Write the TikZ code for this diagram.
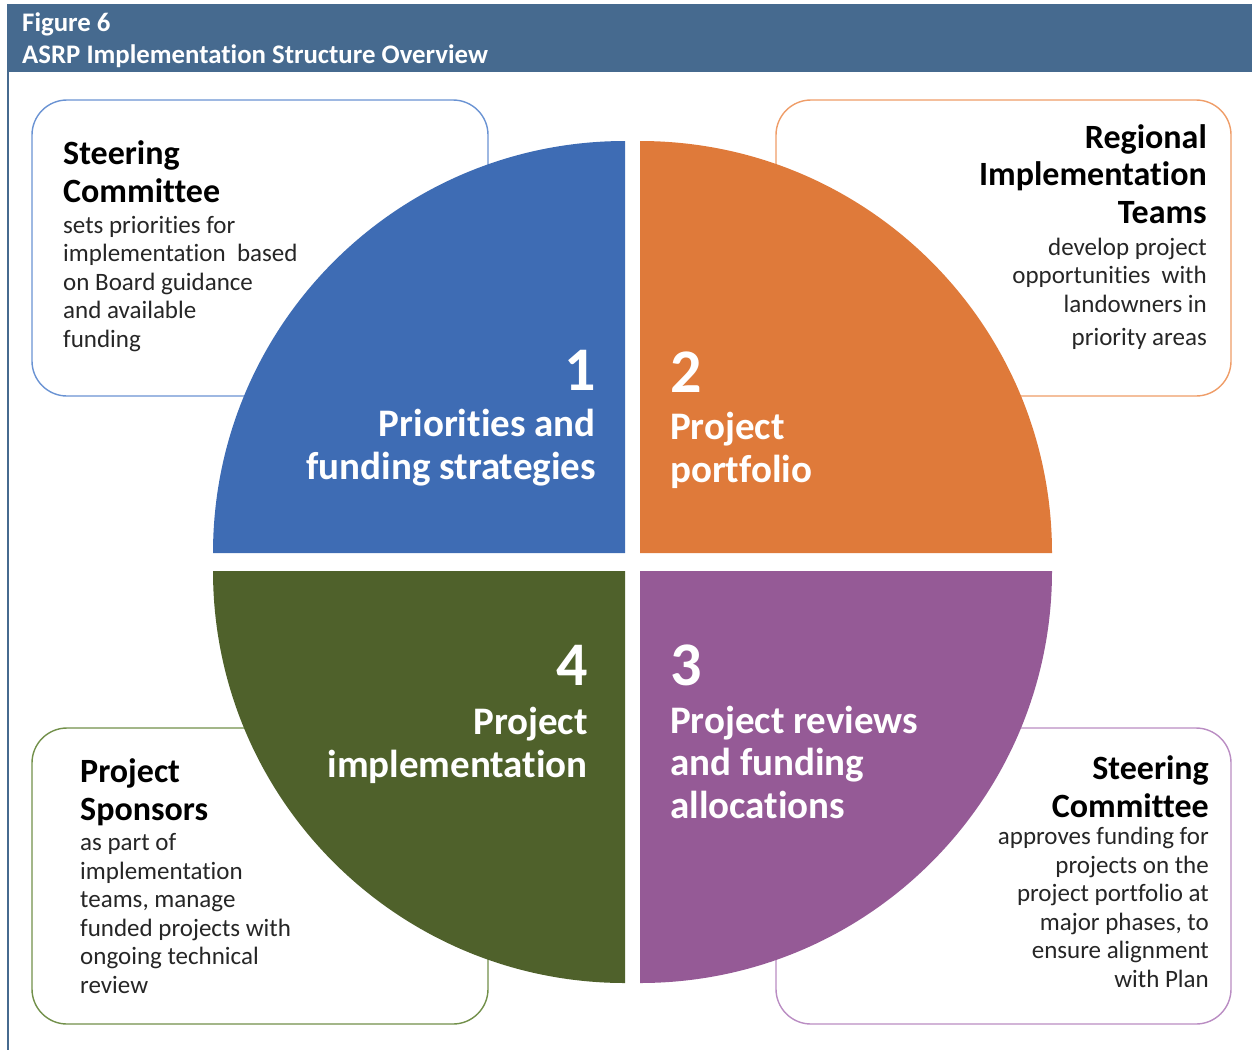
\documentclass[tikz,border=0pt]{standalone}
\usepackage{fontspec}
\setmainfont[Ligatures={NoCommon}]{Carlito}
\usepackage{tikz}

\definecolor{hdrblue}{HTML}{466A8F}
\definecolor{qblue}{HTML}{3E6CB4}
\definecolor{qorange}{HTML}{DF7A3A}
\definecolor{qgreen}{HTML}{4F612B}
\definecolor{qpurple}{HTML}{955A96}
\definecolor{lblue}{HTML}{6A93D3}
\definecolor{lorange}{HTML}{EF9D68}
\definecolor{lgreen}{HTML}{72904A}
\definecolor{lpurple}{HTML}{BA8DC3}

\begin{document}
\begin{tikzpicture}[x=1pt,y=1pt,
  infobox/.style={rounded corners=35pt, line width=1.4pt, fill=white},
  boxhead/.style={inner sep=0pt, font=\fontsize{34}{37.5}\selectfont\bfseries, text=black},
  boxbody/.style={inner sep=0pt, font=\fontsize{25}{28.5}\selectfont, text=black!85},
  qnum/.style={inner sep=0pt, font=\fontsize{62}{62}\selectfont\bfseries, text=white},
  qtext/.style={inner sep=0pt, font=\fontsize{39}{42.5}\selectfont\bfseries, text=white}]
  \useasboundingbox (0,0) rectangle (1252,-1050);

  % title bar
  \fill[hdrblue] (7,-4) rectangle (1252,-72);
  \draw[hdrblue, line width=1.5pt] (8,-72) -- (8,-1050);
  \node[inner sep=0pt, anchor=base west, align=left, text=white,
    font=\fontsize{26.8}{32}\selectfont\bfseries] (title) at (22,-63)
    {Figure 6\\ASRP Implementation Structure Overview};

  % boxes behind the circle
  \draw[infobox, draw=lblue] (32,-100) rectangle (488,-396);
  \draw[infobox, draw=lorange] (776,-100) rectangle (1231,-396);
  \draw[infobox, draw=lgreen] (32,-728) rectangle (488,-1024);
  \draw[infobox, draw=lpurple] (776,-728) rectangle (1231,-1024);

  % quarters
  \fill[qblue] (625,-553) -- (213,-553) arc[start angle=180, end angle=90, radius=412] -- cycle;
  \fill[qorange] (640,-553) -- (640,-141) arc[start angle=90, end angle=0, radius=412] -- cycle;
  \fill[qgreen] (625,-571) -- (213,-571) arc[start angle=180, end angle=270, radius=412] -- cycle;
  \fill[qpurple] (640,-571) -- (1052,-571) arc[start angle=0, end angle=-90, radius=412] -- cycle;

  % quarter labels (base = last line)
  \node[qnum, anchor=base east] (n1) at (596,-390) {1};
  \node[qtext, anchor=base east, align=right] (q1) at (596,-479)
    {Priorities and\\funding strategies};
  \node[qnum, anchor=base west] (n2) at (670,-392) {2};
  \node[qtext, anchor=base west, align=left] (q2) at (670,-482)
    {Project\\portfolio};
  \node[qnum, anchor=base west] (n3) at (670,-685) {3};
  \node[qtext, anchor=base west, align=left] (q3) at (670,-818)
    {Project reviews\\and funding\\allocations};
  \node[qnum, anchor=base east] (n4) at (588,-685) {4};
  \node[qtext, anchor=base east, align=right] (q4) at (588,-777)
    {Project\\implementation};

  % box texts
  \node[boxhead, anchor=base west, align=left] (steerhead) at (63,-202)
    {Steering\\Committee};
  \node[boxbody, anchor=base west, align=left] (steerbody) at (63,-347)
    {sets priorities for\\implementation~ based\\on Board guidance\\and available\\funding};
  \node[boxhead, anchor=base east, align=right] (teamhead) at (1207,-223)
    {Regional\\Implementation\\Teams};
  \node[boxbody, anchor=base east, align=right] (teambody) at (1207,-345)
    {develop project\\opportunities~ with\\landowners in\\[4.5pt]priority areas};
  \node[boxhead, anchor=base west, align=left] (sponhead) at (80,-820)
    {Project\\Sponsors};
  \node[boxbody, anchor=base west, align=left] (sponbody) at (80,-993)
    {as part of\\implementation\\teams, manage\\funded projects with\\ongoing technical\\review};
  \node[boxhead, anchor=base east, align=right] (apprhead) at (1209,-817)
    {Steering\\Committee};
  \node[boxbody, anchor=base east, align=right] (apprbody) at (1209,-987)
    {approves funding for\\projects on the\\project portfolio at\\major phases, to\\ensure alignment\\with Plan};
\end{tikzpicture}
\end{document}
